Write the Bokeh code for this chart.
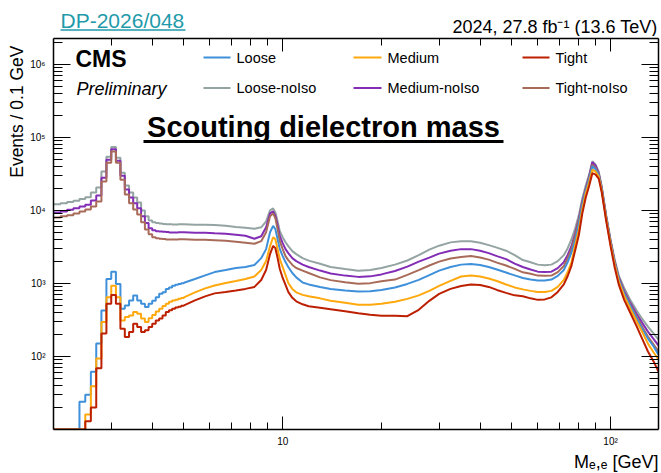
import numpy as np
from bokeh.plotting import figure
from bokeh.layouts import column
from bokeh.models import FixedTicker, LogAxis, Label, Arrow, Title
from bokeh.embed import file_html
from bokeh.resources import INLINE

# ---------------------------------------------------------------------------
# Events per 0.1 GeV.
# 2-5 GeV: individual 0.1 GeV bins (J/psi and psi(2S) region), drawn as steps.
# ---------------------------------------------------------------------------
low_edges = np.round(np.arange(2.0, 5.05, 0.1), 1)

loose_low = [0, 0, 0, 0, 24, 30, 62, 150, 427, 1150, 1450, 984, 450, 500, 583,
             683, 583, 526, 476, 526, 580, 649, 720, 760, 840, 880, 930, 960, 985, 1005]
medium_low = [0, 0, 0, 0, 0, 16, 39, 94, 297, 649, 933, 649, 312, 347, 365,
              405, 385, 330, 297, 335, 370, 412, 450, 490, 526, 560, 583, 600, 615, 630]
tight_low = [0, 0, 0, 0, 0, 13, 20, 69, 206, 526, 697, 526, 240, 185, 216,
             281, 254, 216, 228, 254, 281, 312, 330, 365, 405, 430, 450, 470, 480, 495]
loose_noiso_low = [12100, 12500, 13000, 13600, 14300, 15200, 17600, 20600, 34000, 54300,
                   74000, 52600, 32900, 21900, 17600, 15000, 12800, 10000, 8300, 7300,
                   6900, 6700, 6600, 6500, 6450, 6450, 6400, 6400, 6450, 6450]
medium_noiso_low = [9400, 9700, 10200, 10700, 11300, 12000, 13700, 16000, 28000, 49400,
                    69000, 47900, 29900, 19300, 15000, 12500, 10700, 8300, 6700, 5700,
                    5350, 5200, 5150, 5100, 5050, 5000, 5000, 5000, 5020, 5020]
tight_noiso_low = [8000, 8300, 8600, 9100, 9700, 10300, 11300, 13200, 24800, 45000,
                   64000, 45000, 26400, 16500, 12500, 10300, 8800, 6900, 5500, 4700,
                   4300, 4150, 4100, 4050, 4000, 4000, 4000, 4000, 4030, 4030]

# Above 5 GeV a 0.1 GeV bin is narrower than a pixel: bin contents at these masses.
mass_hi = [5.0, 5.4, 5.8, 6.2, 6.7, 7.2, 7.7, 8.2, 8.6, 8.9,
           9.15, 9.35, 9.5, 9.65, 9.8, 10.0, 10.2, 10.4, 10.7, 11.0,
           11.5, 12.0, 13.0, 14.0, 15.5, 17.0, 18.5, 20.0, 22.0, 24.0,
           26.0, 28.0, 30.0, 32.5, 35.0, 37.5, 40.0, 42.5, 45.0, 48.0,
           51.0, 54.0, 57.0, 60.0, 63.0, 66.0, 69.0, 72.0, 74.0, 76.0,
           78.0, 80.0, 82.0, 84.0, 86.0, 88.0, 90.0, 92.0, 94.0, 97.0,
           100.0, 103.0, 106.0, 110.0, 115.0, 120.0, 125.0, 130.0, 135.0, 140.0]

loose_hi = [1020, 1150, 1290, 1430, 1530, 1630, 1680, 1790, 2220, 2950,
            5020, 6150, 5510, 4030, 2950, 2370, 1960, 1680, 1390, 1210,
            1030, 970, 896, 842, 803, 778, 780, 815, 882, 985,
            1120, 1300, 1500, 1680, 1810, 1840, 1790, 1680, 1550, 1410,
            1290, 1190, 1130, 1100, 1100, 1130, 1270, 1530, 1960, 2660,
            3910, 6570, 11880, 18710, 26410, 40310, 36690, 30420, 19310, 7780,
            3610, 1870, 1120, 731, 487, 334, 237, 176, 139, 106]
medium_hi = [645, 755, 855, 939, 1016, 1082, 1151, 1245, 1527, 2023,
             3238, 4293, 4031, 2947, 2155, 1677, 1305, 1016, 842, 755,
             698, 666, 625, 578, 543, 510, 510, 526, 560, 615,
             687, 791, 925, 1082, 1245, 1285, 1245, 1170, 1082, 969,
             882, 829, 791, 766, 766, 791, 896, 1116, 1434, 1961,
             3340, 5345, 10320, 17030, 24030, 36130, 33920, 29010, 18420, 7542,
             3447, 1785, 1048, 676, 443, 304, 215, 150, 115, 91]
tight_hi = [502, 587, 666, 731, 766, 803, 842, 896, 1116, 1527,
            2520, 3268, 3041, 2223, 1575, 1188, 954, 766, 635, 569,
            518, 487, 464, 443, 416, 391, 373, 361, 361, 356,
            436, 578, 719, 842, 925, 969, 954, 896, 815, 743,
            687, 666, 625, 596, 605, 645, 766, 969, 1265, 1757,
            2856, 4568, 9104, 15030, 21540, 32370, 30890, 27250, 17580, 7085,
            3238, 1626, 954, 596, 391, 260, 173, 117, 87, 62]
loose_noiso_hi = [6450, 6350, 6350, 6300, 6150, 5920, 5780, 5600, 5870, 7090,
                  10000, 10650, 9390, 7090, 5180, 4290, 3670, 3240, 2770, 2520,
                  2220, 2055, 1860, 1680, 1575, 1490, 1530, 1630, 1810, 2060,
                  2440, 2900, 3290, 3650, 3790, 3790, 3610, 3350, 3090, 2810,
                  2440, 2090, 1950, 1810, 1770, 1810, 2020, 2440, 3040, 4030,
                  5690, 8550, 14560, 21880, 30890, 47150, 42230, 33920, 21210, 8550,
                  3970, 2090, 1265, 868, 587, 429, 324, 256, 209, 170]
medium_noiso_hi = [5020, 4940, 4930, 4860, 4790, 4640, 4500, 4100, 4430, 5880,
                   9100, 9690, 8410, 6250, 4430, 3560, 2950, 2600, 2220, 2020,
                   1810, 1680, 1500, 1370, 1280, 1230, 1250, 1330, 1480, 1700,
                   1990, 2260, 2560, 2810, 2950, 2950, 2810, 2600, 2370, 2150,
                   1870, 1680, 1550, 1450, 1440, 1450, 1620, 1960, 2460, 3260,
                   4870, 7620, 13250, 19910, 29010, 45690, 40920, 32360, 20230, 8160,
                   3790, 1960, 1190, 790, 534, 384, 286, 219, 176, 141]
tight_noiso_hi = [4030, 3970, 3960, 3910, 3840, 3730, 3610, 3500, 3790, 5020,
                  8290, 9110, 7780, 5520, 3790, 2950, 2370, 2090, 1790, 1625,
                  1500, 1390, 1210, 1110, 1040, 990, 1010, 1070, 1130, 1310,
                  1520, 1760, 1990, 2190, 2300, 2370, 2260, 2120, 1930, 1760,
                  1580, 1420, 1360, 1280, 1270, 1280, 1430, 1730, 2220, 2950,
                  4570, 7310, 12650, 19300, 27680, 42250, 38430, 31380, 19620, 7910,
                  3670, 1900, 1150, 754, 502, 356, 252, 187, 148, 117]

series_names = ["Loose", "Medium", "Tight", "Loose-noIso", "Medium-noIso", "Tight-noIso"]
series_colors = ["#3f90da", "#ffa90e", "#bd1f01", "#94a4a2", "#832db6", "#a96b59"]
series_low = [loose_low, medium_low, tight_low, loose_noiso_low, medium_noiso_low, tight_noiso_low]
series_hi = [loose_hi, medium_hi, tight_hi, loose_noiso_hi, medium_noiso_hi, tight_noiso_hi]

x_major_ticks = [10, 100]
x_minor_ticks = [3, 4, 5, 6, 7, 8, 9, 20, 30, 40, 50, 60, 70, 80, 90]
y_major_ticks = [100, 1000, 10000, 100000, 1000000]
y_minor_ticks = [k * 10 ** e for e in range(1, 7) for k in range(2, 10)]
x_tick_labels = {10: "10", 100: "10\u00b2"}
y_tick_labels = {100: "10\u00b2", 1000: "10\u00b3", 10000: "10\u2074",
                 100000: "10\u2075", 1000000: "10\u2076"}

X_MIN, X_MAX = 2, 140
Y_MIN, Y_MAX = 10, 2.26e6
FONT = "Liberation Sans"
LINK_COLOR = "#1f9aaa"

# page geometry: a 36 px header strip above the plot, frame at x 53..658, y 38..431
W = 661
HEADER_H = 36
PLOT_H = 437
LEFT, RIGHT, TOP, BOTTOM = 53, 3, 2, 42
FRAME_BOTTOM = HEADER_H + PLOT_H - BOTTOM


def histogram_path(low, hi):
    xs, ys = [], []
    for i, v in enumerate(low):
        xs += [low_edges[i], low_edges[i + 1]]
        ys += [v, v]
    xs += list(mass_hi)
    ys += list(hi)
    # empty bins sit on the lower edge of the log axis
    return np.array(xs, float), np.maximum(np.array(ys, float), Y_MIN)


# ---------------------------------------------------------------- header strip
# the column lines this strip's frame up with the plot frame (x 53..658),
# so its x coordinates are page pixels
hdr = figure(width=W, height=HEADER_H, x_range=(LEFT, W - RIGHT), y_range=(HEADER_H, 0),
             output_backend="svg", toolbar_location=None, min_border=0,
             x_axis_location=None, y_axis_location=None)
hdr.grid.visible = False
hdr.outline_line_color = None
hdr.background_fill_color = "white"
hdr.border_fill_color = "white"
hdr.add_layout(Label(x=60, y=19.5, text="DP-2026/048", text_font=FONT, text_font_size="21px",
                     text_color=LINK_COLOR, text_baseline="middle", text_align="left"))
hdr.add_layout(Arrow(x_start=60, y_start=29.5, x_end=185, y_end=29.5, end=None,
                     line_color=LINK_COLOR, line_width=1.5))
hdr.add_layout(Label(x=657, y=26.5, text="2024, 27.8 fb\u207b\u00b9 (13.6 TeV)", text_font=FONT,
                     text_font_size="18px", text_color="black", text_baseline="middle",
                     text_align="right"))

# ---------------------------------------------------------------- main plot
p = figure(width=W, height=PLOT_H, x_axis_type="log", y_axis_type="log",
           x_range=(X_MIN, X_MAX), y_range=(Y_MIN, Y_MAX),
           output_backend="svg", toolbar_location=None,
           min_border_left=LEFT, min_border_right=RIGHT,
           min_border_top=TOP, min_border_bottom=BOTTOM)
p.grid.visible = False
p.outline_line_color = None
p.background_fill_color = "white"
p.border_fill_color = "white"

# draw order: no-isolation curves first, isolated curves on top
for idx in [3, 4, 5, 0, 1, 2]:
    xs, ys = histogram_path(series_low[idx], series_hi[idx])
    p.line(xs, ys, line_color=series_colors[idx], line_width=2)


def style_axis(ax, major_len, minor_len, show_labels):
    ax.axis_line_color = "black"
    ax.axis_line_width = 1.5
    ax.major_tick_in = major_len
    ax.major_tick_out = 0
    ax.minor_tick_in = minor_len
    ax.minor_tick_out = 0
    ax.major_tick_line_color = "black"
    ax.minor_tick_line_color = "black"
    ax.major_tick_line_width = 1
    ax.minor_tick_line_width = 1
    ax.major_label_text_font = FONT
    if show_labels:
        ax.major_label_text_font_size = "10px"
        ax.major_label_text_color = "black"
    else:
        # mirrored frame edge: ticks only
        ax.major_label_text_font_size = "1px"
        ax.major_label_text_alpha = 0
        ax.major_label_standoff = 0


xax = p.xaxis[0]
xax.ticker = FixedTicker(ticks=x_major_ticks, minor_ticks=x_minor_ticks)
xax.major_label_overrides = x_tick_labels
style_axis(xax, 13, 7, True)
xax.major_label_standoff = 6

yax = p.yaxis[0]
yax.ticker = FixedTicker(ticks=y_major_ticks, minor_ticks=y_minor_ticks)
yax.major_label_overrides = y_tick_labels
style_axis(yax, 17, 9, True)
yax.major_label_standoff = 8

top_ax = LogAxis(ticker=FixedTicker(ticks=x_major_ticks, minor_ticks=x_minor_ticks))
style_axis(top_ax, 13, 7, False)
p.add_layout(top_ax, "above")
right_ax = LogAxis(ticker=FixedTicker(ticks=y_major_ticks, minor_ticks=y_minor_ticks))
style_axis(right_ax, 17, 9, False)
p.add_layout(right_ax, "right")

# axis titles at the far ends of the axes
p.add_layout(Title(text="Events / 0.1 GeV", align="right", vertical_align="middle",
                   offset=7, standoff=0, text_font=FONT, text_font_size="17.5px",
                   text_font_style="normal", text_color="black"), "left")
p.add_layout(Title(text="M\u2091,\u2091 [GeV]", align="right", vertical_align="middle",
                   offset=0, standoff=2, text_font=FONT, text_font_size="18px",
                   text_font_style="normal", text_color="black"), "below")


def put_text(text, cx, cy, size, **kw):
    """Text centred vertically on page pixel (cx, cy), inside the frame."""
    p.add_layout(Label(x=cx - LEFT, y=FRAME_BOTTOM - cy, x_units="screen", y_units="screen",
                       text=text, text_font=FONT, text_font_size=f"{size}px",
                       text_baseline="middle", text_color="black", **kw))


def put_rule(x0, x1, cy, color, width):
    p.add_layout(Arrow(x_start=x0 - LEFT, y_start=FRAME_BOTTOM - cy,
                       x_end=x1 - LEFT, y_end=FRAME_BOTTOM - cy,
                       start_units="screen", end_units="screen", end=None,
                       line_color=color, line_width=width))


put_text("CMS", 75, 60.5, 23, text_font_style="bold")
put_text("Preliminary", 76, 90, 18, text_font_style="italic")
put_text("Scouting dielectron mass", 323, 128, 29, text_font_style="bold", text_align="center")
put_rule(143, 503, 143, "black", 3)

# legend: three columns, isolated on the first row, no-isolation on the second
legend_cols = [(203, 230, 236), (353, 381, 387), (522, 549, 555)]
legend_rows = [59, 89.5]
for idx, name in enumerate(series_names):
    row, col = divmod(idx, 3)
    x0, x1, xt = legend_cols[col]
    cy = legend_rows[row]
    put_rule(x0, x1, cy, series_colors[idx], 2)
    put_text(name, xt, cy, 14.5)

page = column(hdr, p, spacing=0)
open("out.html", "w").write(file_html(page, INLINE))
